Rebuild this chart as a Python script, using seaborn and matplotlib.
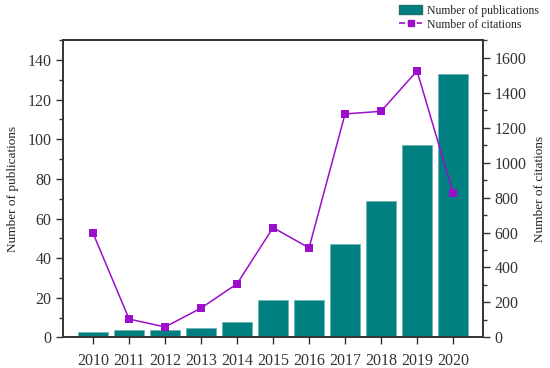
import numpy as np
import pandas as pd
import matplotlib
matplotlib.use("Agg")
import matplotlib.pyplot as plt
import seaborn as sns
from matplotlib.ticker import MultipleLocator
from matplotlib.patches import Patch
from matplotlib.lines import Line2D

years = ["2010", "2011", "2012", "2013", "2014", "2015", "2016", "2017", "2018", "2019", "2020"]
publications = [3, 4, 4, 5, 8, 19, 19, 47, 69, 97, 133]
citations = [595, 105, 60, 168, 307, 628, 512, 1278, 1293, 1524, 827]

bar_color = "#008080"
line_color = "#9B0FCB"
axis_color = "#333333"

sns.set_style("ticks")
plt.rcParams["font.family"] = ["Liberation Serif", "DejaVu Serif"]

df = pd.DataFrame({"year": years, "publications": publications, "citations": citations})
df["pos"] = np.arange(len(years))

fig, ax = plt.subplots(figsize=(5.5, 3.68), dpi=100)
fig.subplots_adjust(left=0.115, right=0.878, top=0.891, bottom=0.083)

sns.barplot(data=df, x="year", y="publications", color=bar_color, width=0.83,
            saturation=1, edgecolor="#6fb6b6", linewidth=0.6, ax=ax, zorder=2)
ax.set_xlim(-0.83, 10.83)
ax.set_ylim(0, 150)
ax.yaxis.set_major_locator(MultipleLocator(20))
ax.yaxis.set_minor_locator(MultipleLocator(10))
ax.set_xlabel("")
ax.set_ylabel("Number of publications", fontsize=9.5, color="#222222", labelpad=6)

ax2 = ax.twinx()
sns.lineplot(data=df, x="pos", y="citations", color=line_color, marker="s",
             markersize=6, markeredgewidth=0, linewidth=1.1, ax=ax2, zorder=3)
ax2.set_ylim(0, 1700)
ax2.yaxis.set_major_locator(MultipleLocator(200))
ax2.yaxis.set_minor_locator(MultipleLocator(100))
ax2.set_xlabel("")
ax2.set_ylabel("Number of citations", fontsize=9.5, color="#222222", labelpad=5)

for a in (ax, ax2):
    for s in a.spines.values():
        s.set_color(axis_color)
        s.set_linewidth(1.2)
    a.tick_params(which="major", length=5, width=1, color=axis_color, labelsize=11.5,
                  labelcolor="#333333")
    a.tick_params(which="minor", length=3, width=1, color=axis_color)
ax.tick_params(axis="x", pad=6)

handles = [Patch(facecolor=bar_color, edgecolor="#1f6f6f", label="Number of publications"),
           Line2D([0], [0], color=line_color, marker="s", markersize=5, linestyle="--",
                  linewidth=1.2, label="Number of citations")]
fig.legend(handles=handles, loc="upper right", bbox_to_anchor=(0.995, 1.01), frameon=False,
           fontsize=8.5, handlelength=2.0, handleheight=0.9, labelspacing=0.2,
           borderpad=0.2, handletextpad=0.4)

fig.savefig("out.png", dpi=100)
